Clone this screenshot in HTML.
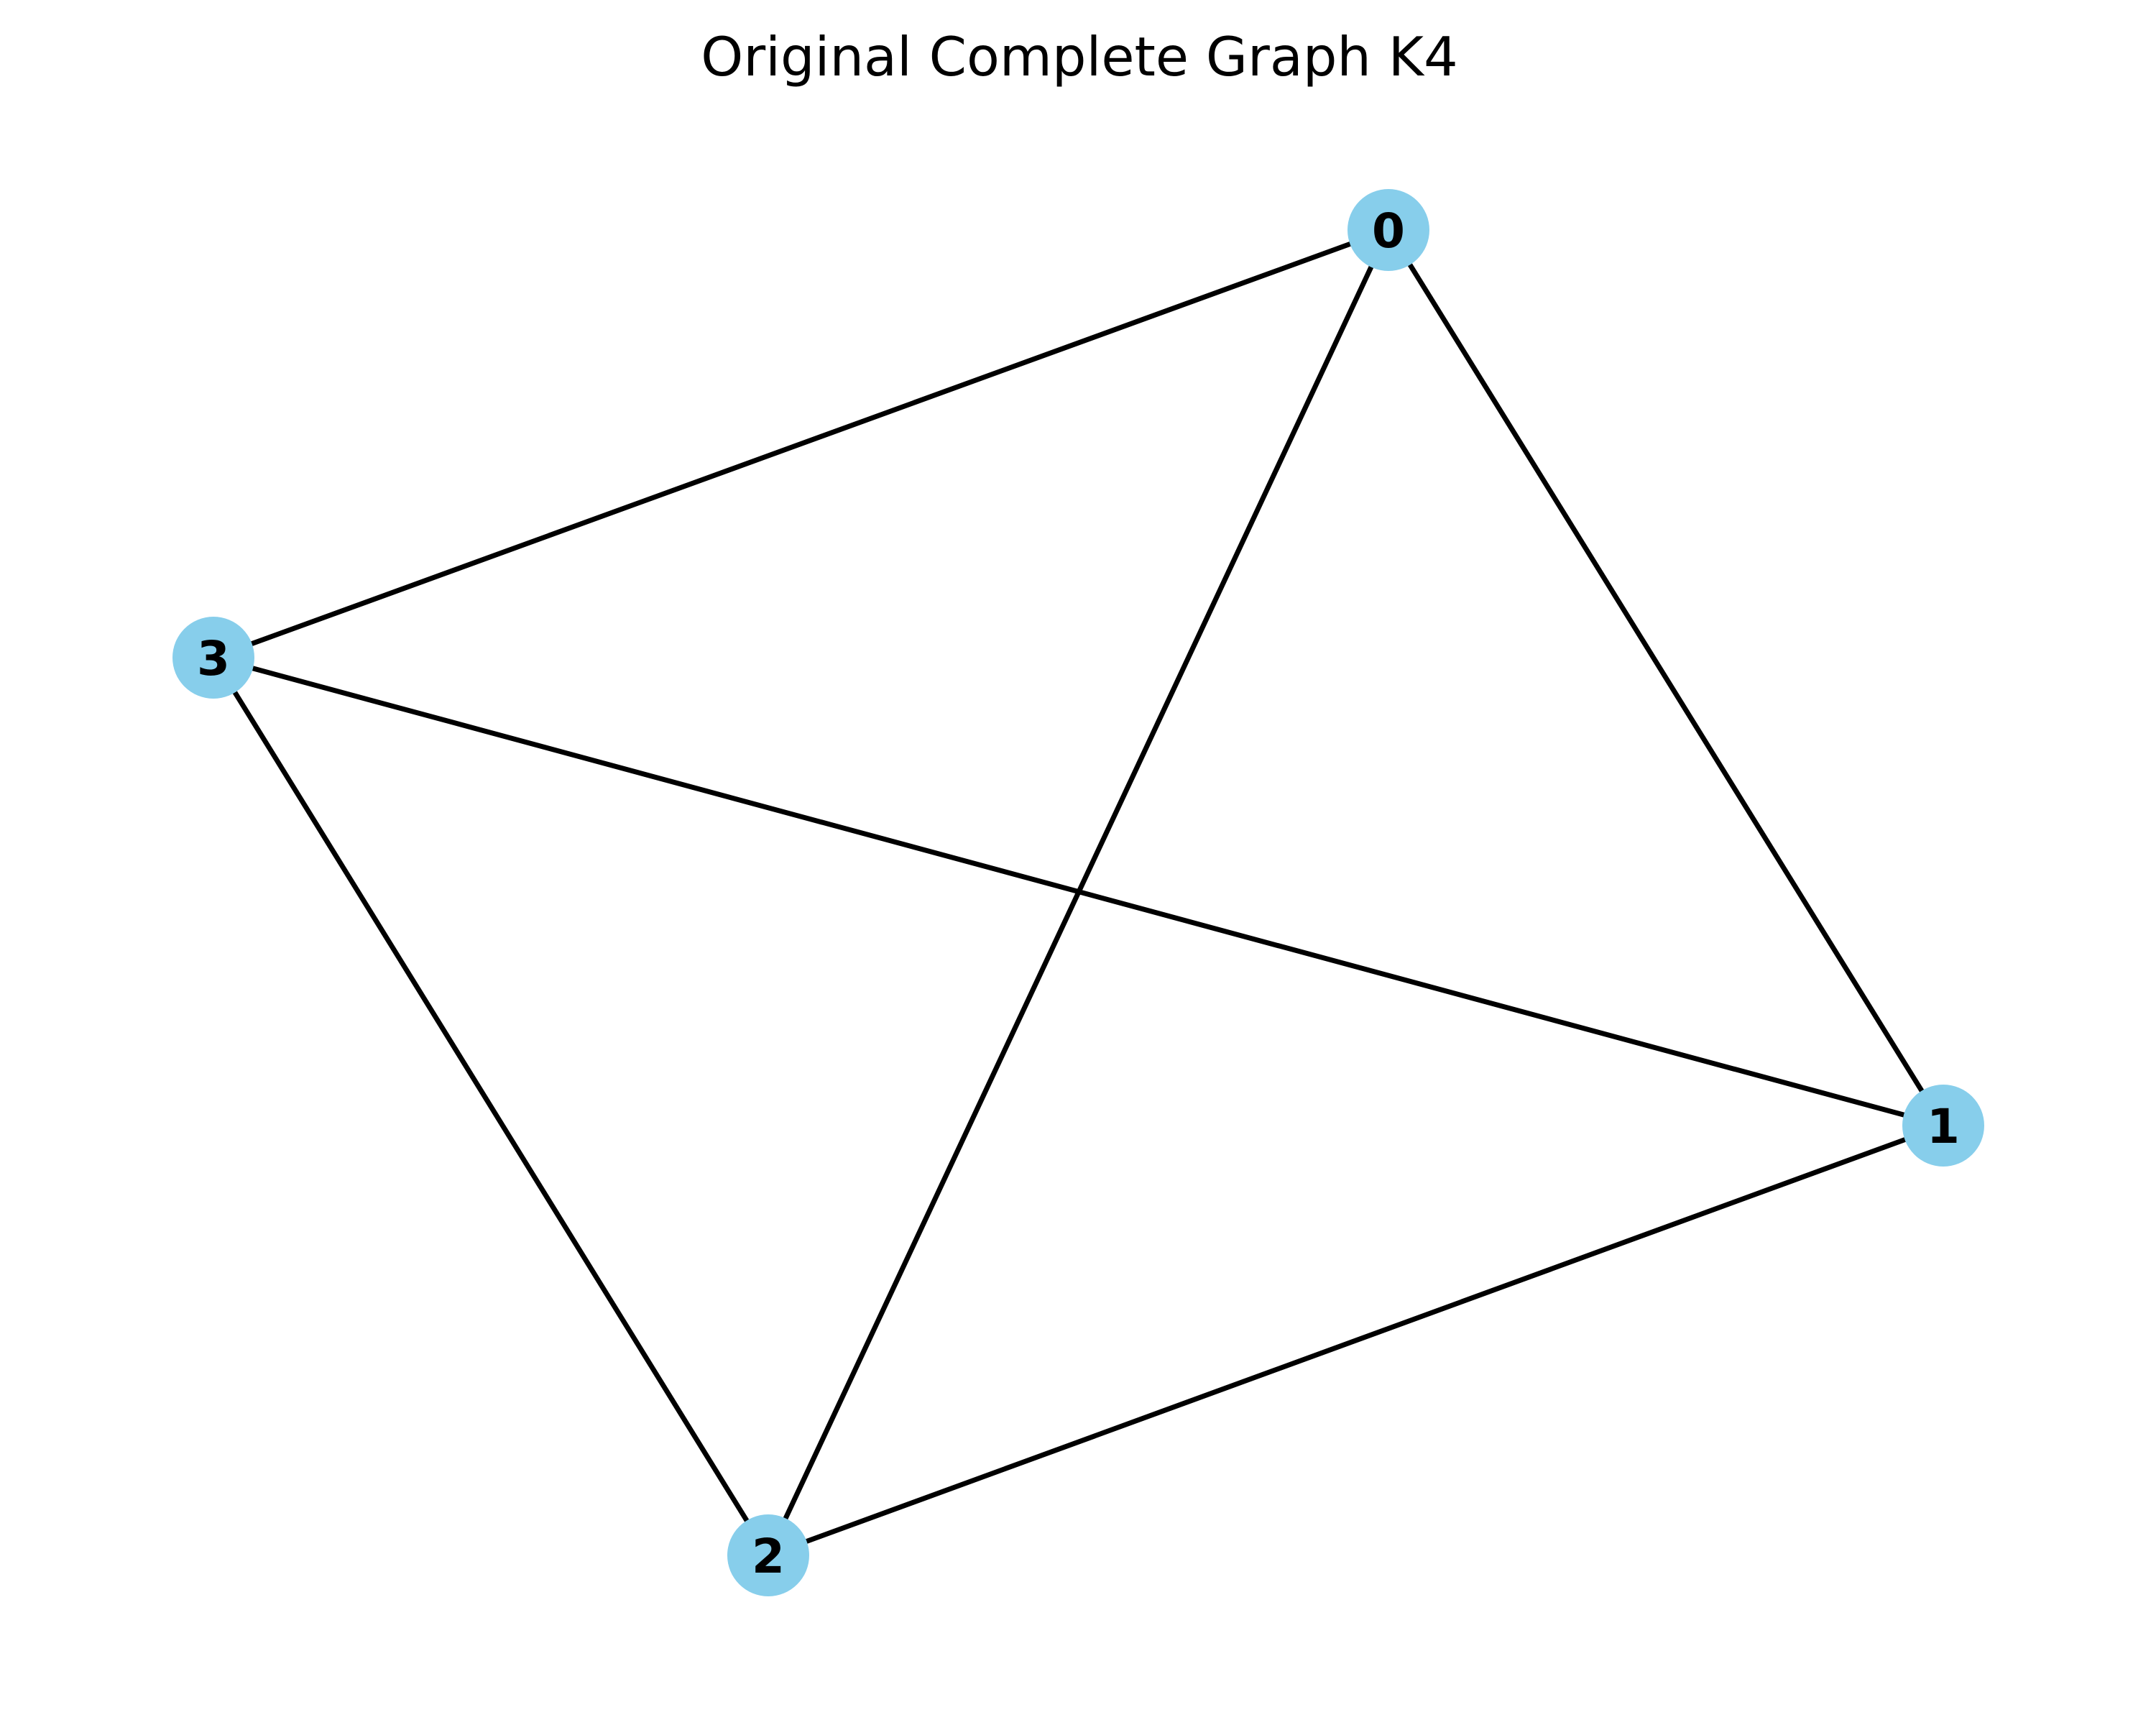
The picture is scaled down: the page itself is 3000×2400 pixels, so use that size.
<!DOCTYPE html>
<html><head><meta charset="utf-8"><style>html,body{margin:0;padding:0;background:#fff;}svg{display:block}</style></head>
<body>
<svg width="3000" height="2400" xmlns="http://www.w3.org/2000/svg">
<rect width="3000" height="2400" fill="#fff"/>
<text x="1502" y="105" font-family="DejaVu Sans, Liberation Sans, sans-serif" font-size="75" text-anchor="middle" fill="#000">Original Complete Graph K4</text>
<g stroke="#000" stroke-width="7" stroke-linecap="butt">
<line x1="1932" y1="320" x2="2704" y2="1566"/>
<line x1="1932" y1="320" x2="1069" y2="2164"/>
<line x1="1932" y1="320" x2="297" y2="915"/>
<line x1="2704" y1="1566" x2="1069" y2="2164"/>
<line x1="2704" y1="1566" x2="297" y2="915"/>
<line x1="1069" y1="2164" x2="297" y2="915"/>
</g>
<g fill="#87ceeb">
<circle cx="1932" cy="320" r="57"/>
<circle cx="2704" cy="1566" r="57"/>
<circle cx="1069" cy="2164" r="57"/>
<circle cx="297" cy="915" r="57"/>
</g>
<g font-family="DejaVu Sans, Liberation Sans, sans-serif" font-size="66" font-weight="bold" text-anchor="middle" fill="#000">
<text x="1932" y="344">0</text>
<text x="2704" y="1590">1</text>
<text x="1069" y="2188">2</text>
<text x="297" y="939">3</text>
</g>
</svg>
</body></html>
